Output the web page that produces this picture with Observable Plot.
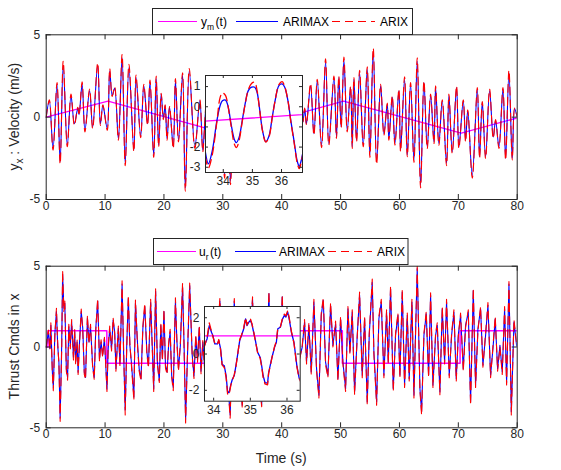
<!DOCTYPE html>
<html><head><meta charset="utf-8">
<script src="https://cdn.jsdelivr.net/npm/d3@7"></script>
<script src="https://cdn.jsdelivr.net/npm/@observablehq/plot@0.6"></script>
<style>
body{margin:0;background:#fff}
#fig{position:relative;width:561px;height:470px;background:#fff;overflow:hidden}
#fig > svg{position:absolute}
</style></head><body><div id="fig"></div>
<script>
// ---------- DATA ----------
// Top panel: velocity
const tTop = [
 0,0.53,1.16,1.84,2.37,2.89,3.58,4.21,4.79,5.37,
 5.58,6.1,6.58,7.37,7.89,8.74,9.21,9.63,10.37,10.79,
 11.21,11.63,12.26,12.89,13.42,14.05,14.89,15.26,16.05,16.58,
 17.21,17.63,18.26,18.68,19.1,19.53,19.9,20.2,20.53,20.95,
 21.58,21.95,22.47,23.16,23.63,24.3,25.25,26.1,26.6,27.2,
 27.8,28.4,29.0,29.6,30.3,30.8,31.3,31.9,32.4,32.95,
 33.47,33.98,34.46,35.05,35.46,36.02,36.6,37.2,37.8,38.4,
 39.0,39.6,40.2,40.8,41.4,42.0,42.6,43.2,43.6,43.9,
 44.2,44.9,45.47,46.04,46.77,47.45,48.0,48.87,49.3,49.7,
 50.1,50.57,51.13,51.7,51.98,52.26,52.72,53.23,53.85,54.53,
 54.98,55.55,56.12,56.8,57.36,57.93,58.2,58.78,59.23,59.9,
 60.19,60.87,61.33,61.89,62.46,63.02,63.59,64.16,64.72,65.29,
 65.86,66.14,66.7,67.27,68.0,68.4,68.97,69.7,70.1,70.84,
 71.23,71.6,72.37,73.22,73.61,74.07,74.63,75.31,75.93,76.33,
 76.9,77.58,78.03,78.6,79.16,79.56,80.0];
const arimaxTop = [
 0,1.0,-1.9,2.0,-2.7,3.15,-1.7,1.3,-0.4,0.55,
 0.15,2.0,-0.8,1.6,-0.6,3.15,-0.4,0.7,-0.7,2.8,
 1.3,1.75,-1.3,3.6,-2.8,3.0,-2.0,2.4,-1.15,1.9,
 -0.4,2.1,-2.3,2.35,-1.7,1.4,-0.1,0.7,-1.3,0.6,
 -1.8,2.2,-1.4,2.55,-4.3,2.8,-1.8,1.0,-2.0,0.8,
 -1.5,1.5,-2.0,2.0,-3.5,1.2,-3.9,1.0,-2.0,0.5,
 -2.83,0.33,-1.78,0.97,-1.73,1.13,-2.95,1.5,-2.2,2.0,
 -1.8,1.8,-2.0,2.2,-1.5,1.6,-1.8,0.8,-0.3,0.5,
 -0.4,1.9,-1.0,2.2,-1.7,3.35,-1.6,2.4,-1.2,2.4,
 -0.6,3.45,-0.8,1.8,-1.8,2.3,-1.4,2.7,-1.7,2.9,
 -2.3,4.0,-2.7,1.9,-1.0,0.8,-1.3,1.2,-1.6,1.6,
 -2.0,2.3,-2.3,2.0,-2.6,3.4,-4.15,2.1,-1.8,1.3,
 -1.5,1.8,-1.6,1.0,-2.8,1.3,-2.1,1.8,-1.8,1.0,
 -1.4,0.4,-3.55,1.7,-2.4,0.9,-2.4,1.6,-1.2,-0.2,
 -1.8,1.7,-2.5,2.7,-2.5,0.5,0];
const arixTop = [
 0,1.05,-2.0,2.1,-2.85,3.4,-1.8,1.4,-0.5,0.6,
 0.1,2.15,-0.9,1.7,-0.7,3.3,-0.5,0.75,-0.8,2.95,
 1.25,1.85,-1.4,3.8,-2.95,3.2,-2.1,2.55,-1.25,2.0,
 -0.5,2.25,-2.45,2.5,-1.8,1.45,-0.15,0.75,-1.4,0.65,
 -1.9,2.35,-1.5,2.7,-4.5,2.95,-1.9,1.05,-2.1,0.85,
 -1.6,1.6,-2.1,2.1,-3.7,1.3,-4.1,1.1,-2.1,0.6,
 -3.03,0.65,-2.03,1.25,-1.75,1.25,-3.07,1.6,-2.3,2.1,
 -1.9,1.9,-2.1,2.3,-1.6,1.7,-1.9,0.85,-0.3,0.55,
 -0.45,2.05,-1.1,2.3,-1.85,3.55,-1.7,2.5,-1.3,2.5,
 -0.65,3.65,-0.9,1.9,-1.9,2.4,-1.5,2.85,-1.8,3.05,
 -2.45,4.2,-2.85,2.0,-1.1,0.85,-1.4,1.3,-1.7,1.7,
 -2.1,2.45,-2.4,2.1,-2.75,3.6,-4.3,2.2,-1.9,1.4,
 -1.6,1.9,-1.7,1.05,-2.95,1.4,-2.2,1.9,-1.9,1.05,
 -1.5,0.45,-3.7,1.8,-2.5,0.95,-2.5,1.7,-1.3,-0.15,
 -1.9,1.8,-2.6,2.85,-2.6,0.55,0];
const refTopT = [0,10.5,30.5,50.5,70.5,80];
const refTopV = [0,0.97,-1,0.97,-0.97,-0.05];

// Top inset (zoom 33.4-36.7 s)
const tInsTop = [33.38,33.49,33.62,33.78,33.89,33.97,34.08,34.16,34.27,34.38,
 34.45,34.54,34.65,34.76,34.86,34.97,35.08,35.16,35.24,35.35,
 35.46,35.57,35.68,35.78,35.91,36.02,36.11,36.22,36.32,36.43,
 36.54,36.61,36.67,36.76];
const arimaxInsTop = [-2.2,-2.83,-2.2,-0.7,0.05,0.3,0.33,0.05,-0.87,-1.62,
 -1.78,-1.53,-0.7,0.22,0.8,0.97,0.97,0.72,-0.03,-1.2,
 -1.73,-1.45,-0.53,0.3,1.05,1.13,0.97,0.3,-0.7,-1.7,
 -2.7,-2.95,-2.7,-2.03];
const arixInsTop = [-2.45,-3.03,-2.4,-0.75,0.45,0.7,0.55,0.05,-0.95,-1.85,
 -2.03,-1.7,-0.75,0.2,0.85,1.15,1.22,0.8,-0.05,-1.22,
 -1.75,-1.5,-0.55,0.3,1.1,1.25,1.0,0.3,-0.75,-1.75,
 -2.8,-3.07,-2.8,-2.1];

// Bottom panel: thrust commands
const tBot = [
 0,0.37,0.63,0.79,1.05,1.21,1.47,1.74,1.95,2.16,
 2.37,2.63,2.79,3.0,3.16,3.42,3.63,3.84,4.1,4.32,
 4.63,4.84,5.0,5.26,5.42,5.63,5.95,6.21,6.47,6.68,
 7.0,7.26,7.53,7.89,8.16,8.42,8.74,9.05,9.32,9.58,
 9.89,10.32,10.53,10.79,11.1,11.37,11.63,11.84,12.26,12.53,
 12.89,13.16,13.42,13.68,13.95,14.21,14.47,14.89,15.16,15.53,
 15.79,16.1,16.42,16.74,17.1,17.37,17.74,18.05,18.26,18.58,
 18.89,19.21,19.47,19.74,20.0,20.26,20.53,20.79,21.05,21.32,
 21.58,21.95,22.21,22.47,22.79,23.16,23.42,23.68,24.05,24.37,
 24.8,25.1,25.4,25.7,26.0,26.3,26.6,26.9,27.2,27.5,
 27.8,28.1,28.4,28.8,29.1,29.5,29.9,30.2,30.5,30.9,
 31.25,31.6,31.95,32.3,32.6,33.0,33.3,33.7,34.0,34.4,
 34.8,35.05,35.4,35.8,36.2,36.6,37.0,37.4,37.83,38.1,
 38.4,38.7,39.0,39.3,39.6,39.85,40.09,40.4,40.7,41.0,
 41.3,41.6,41.9,42.2,42.5,42.8,43.1,43.49,43.88,44.22,
 44.62,45.02,45.47,45.92,46.32,46.72,47.06,47.45,47.85,48.3,
 48.7,49.15,49.55,50.0,50.4,50.85,51.25,51.59,51.98,52.38,
 52.83,53.23,53.68,54.08,54.53,54.87,55.38,55.66,56.12,56.51,
 56.91,57.36,57.81,58.1,58.49,58.95,59.34,59.74,60.08,60.48,
 60.87,61.33,61.66,62.12,62.46,63.02,63.48,63.76,64.16,64.55,
 64.95,65.29,65.69,66.14,66.42,66.87,67.27,67.67,68.0,68.46,
 68.86,69.25,69.65,69.99,70.38,70.84,71.23,71.69,72.08,72.54,
 72.93,73.33,73.78,74.18,74.63,75.03,75.48,75.88,76.27,76.67,
 77.07,77.46,77.86,78.2,78.6,79.0,79.45,79.9,80.0];
const arimaxBot = [
 0,0.94,-0.1,1.35,-1.56,-2.5,0.83,2.19,0.1,-0.94,
 -4.4,0.1,4.5,2.4,2.7,-1.35,-1.88,1.25,0.1,1.56,
 -0.63,0.94,-0.94,0.3,-1.56,0.1,2.19,1.15,-1.56,-1.88,
 1.77,0.31,1.25,-1.15,-1.88,1.15,2.85,-0.73,0.31,-0.52,
 0.52,-2.6,-0.1,1.15,-0.1,1.67,0.94,-1.35,1.15,-1.04,
 3.9,-0.52,-3.9,0.1,3.0,0.1,-0.94,-3.1,2.7,0.1,
 -1.35,-1.98,1.15,2.5,-0.31,-1.15,2.75,-0.31,-2.6,3.45,
 -0.94,-2.08,1.35,-0.73,2.19,-1.15,-1.56,0.1,0.94,-1.77,
 -2.5,2.85,0.31,-1.35,0.1,3.75,0.1,-4.5,0.1,3.8,
 -0.5,-1.8,0.6,-0.8,1.2,-1.5,0.3,-1.2,1.5,-0.5,
 2.0,-1.0,1.2,-2.0,0.8,2.85,-0.5,1.0,-1.5,-2.5,
 -4.2,0.5,2.85,-1.0,0.8,-1.5,-3.6,0.4,1.5,-2.0,
 1.5,2.95,-1.5,0.5,-2.0,-3.55,1.0,-1.0,3.3,-0.5,
 -2.2,0.8,-1.0,1.8,-2.0,0.5,3.1,-0.3,-2.4,1.2,
 -0.8,2.0,-1.5,0.6,-2.2,1.5,-0.6,0,1.55,-0.93,
 1.34,-1.55,2.78,-1.34,-2.99,1.96,2.89,-0.93,-1.75,2.58,
 0.1,1.44,-1.96,1.75,-0.93,-2.58,2.37,-0.31,2.16,-2.78,
 0.72,3.2,-1.75,1.75,-3.4,0.72,4.0,-0.31,-3.4,1.75,
 2.78,-1.75,2.16,-0.93,3.6,-2.58,0.72,1.96,-1.75,3.4,
 -2.37,1.96,-1.96,2.78,-2.99,4.85,-2.58,-4.0,0.72,2.06,
 -1.75,3.2,-2.37,0.72,1.34,-2.78,2.37,-0.93,2.78,-1.75,
 0.72,2.16,-1.96,0.72,1.96,-1.34,1.34,2.16,-3.4,3.5,
 -2.37,1.13,2.37,-1.13,0.72,2.58,-1.75,-0.1,1.75,-1.34,
 0.1,-1.55,2.37,-2.2,3.9,-4.0,1.55,0.1,0];
const arixBot = [
 0,1.05,-0.2,1.5,-1.7,-2.7,0.7,2.4,0.3,-1.1,
 -4.6,-0.2,4.75,2.2,2.9,-1.5,-2.05,1.4,-0.1,1.7,
 -0.8,1.1,-1.1,0.45,-1.7,0.0,2.35,1.0,-1.7,-2.0,
 1.95,0.2,1.4,-1.3,-2.0,1.0,3.0,-0.9,0.45,-0.65,
 0.6,-2.75,0.05,1.3,-0.25,1.8,0.8,-1.5,1.3,-1.2,
 4.1,-0.3,-4.2,0.0,3.2,0.2,-1.1,-3.3,2.9,-0.05,
 -1.5,-2.1,1.3,2.7,-0.45,-1.3,2.95,-0.5,-2.75,3.6,
 -1.1,-2.2,1.5,-0.85,2.35,-1.3,-1.7,0.2,1.1,-1.9,
 -2.7,3.05,0.2,-1.5,0.25,3.95,-0.1,-4.7,0.3,3.95,
 -0.6,-1.95,0.75,-0.95,1.35,-1.65,0.4,-1.35,1.6,-0.6,
 2.1,-1.1,1.3,-2.1,0.9,3.0,-0.6,1.1,-1.6,-2.6,
 -4.4,0.6,3.0,-1.1,0.9,-1.6,-3.8,0.5,1.6,-2.1,
 1.6,3.1,-1.6,0.6,-2.1,-3.7,1.1,-1.1,3.45,-0.6,
 -2.3,0.9,-1.1,1.9,-2.1,0.6,3.25,-0.4,-2.5,1.3,
 -0.9,2.1,-1.6,0.7,-2.3,1.6,-0.7,0.1,1.7,-1.05,
 1.5,-1.7,2.95,-1.5,-3.15,2.1,3.05,-1.1,-1.9,2.75,
 0.0,1.6,-2.1,1.9,-1.05,-2.75,2.5,-0.45,2.3,-2.95,
 0.6,3.4,-1.9,1.9,-3.6,0.85,4.2,-0.45,-3.6,1.9,
 2.95,-1.9,2.3,-1.05,3.8,-2.75,0.85,2.1,-1.9,3.6,
 -2.5,2.1,-2.1,2.95,-3.15,5.0,-2.7,-4.2,0.85,2.2,
 -1.9,3.35,-2.5,0.85,1.5,-2.95,2.5,-1.05,2.95,-1.9,
 0.85,2.3,-2.1,0.6,2.1,-1.5,1.2,2.3,-3.6,3.65,
 -2.5,1.0,2.5,-1.25,0.85,2.75,-1.9,0.05,1.9,-1.5,
 0.0,-1.7,2.5,-2.35,4.05,-4.2,1.7,0.2,0.05];
const refBotT = [0,0.3,10.3,30.3,50.3,70.3,80];
const refBotV = [0,1,-1,1,-1,1,1];

// Bottom inset (zoom 33.75-36.36 s)
const tInsBot = [33.73,33.82,33.88,33.94,33.98,34.03,34.1,34.14,34.19,34.23,
 34.29,34.34,34.38,34.42,34.47,34.51,34.56,34.6,34.65,34.71,
 34.76,34.82,34.87,34.91,34.96,35.0,35.04,35.09,35.13,35.2,
 35.27,35.31,35.35,35.4,35.47,35.5,35.56,35.59,35.66,35.71,
 35.75,35.82,35.88,35.93,35.97,36.02,36.06,36.12,36.19,36.27,
 36.33,36.42];
const arimaxInsBot = [0.37,0.83,1.57,1.2,1.02,0.56,0.56,0.74,0.28,-0.56,
 -0.65,-1.2,-2.09,-2.13,-1.67,-1.39,-1.2,-0.74,-0.09,0.74,
 1.02,1.39,1.94,1.57,1.76,1.85,1.67,1.2,0.83,0.09,
 -0.19,-0.65,-1.2,-1.57,-1.61,-1.02,-0.46,-0.19,0.37,0.65,
 1.39,1.48,1.94,2.13,2.04,2.31,1.94,1.2,0.65,-0.65,
 -1.3,-1.67];
const arixInsBot = [0.3,0.9,1.72,1.25,0.95,0.6,0.5,0.8,0.2,-0.6,
 -0.75,-1.3,-2.2,-2.25,-1.7,-1.45,-1.15,-0.8,-0.1,0.8,
 1.05,1.45,2.0,1.6,1.85,1.95,1.7,1.25,0.8,0.05,
 -0.25,-0.7,-1.3,-1.65,-1.7,-1.05,-0.5,-0.2,0.4,0.7,
 1.45,1.5,2.0,2.2,2.1,2.4,2.0,1.25,0.6,-0.7,
 -1.35,-1.75];

const mainXTicks = [0,10,20,30,40,50,60,70,80];
const mainYTicks = [-5,0,5];
const insTopXTicks = [34,35,36];
const insTopYTicks = [-3,-2,-1,0,1];
const insTopYLabels = [-3,-2,0,1];
const insBotXTicks = [34,35,36];
const insBotYTicks = [-2,0,2];

// ---------- RENDER ----------
const FONT = '"Liberation Sans", Arial, Helvetica, sans-serif';
const AX = "#262626";
const MAG = "#ff00ff", BLUE = "#0000ff", RED = "#ff0000";
const DASH = "8,5";
const rows = (t, a, b) => t.map((x, i) => ({t: x, a: a[i], b: b ? b[i] : null}));

function axesPlot(o) {
  const iw = o.width - o.ml - o.mr, ih = o.height - o.mt - o.mb, tl = o.tickLen;
  const marks = [];
  if (o.bg) marks.push(Plot.frame({fill: "white", stroke: null}));
  marks.push(...o.marks);
  marks.push(Plot.ruleX(o.xTicks, {x: d => d, insetTop: ih - tl, stroke: AX, strokeWidth: 1}));
  marks.push(Plot.ruleX(o.xTicks, {x: d => d, insetBottom: ih - tl, stroke: AX, strokeWidth: 1}));
  marks.push(Plot.ruleY(o.yTicks, {y: d => d, insetRight: iw - tl, stroke: AX, strokeWidth: 1}));
  marks.push(Plot.ruleY(o.yTicks, {y: d => d, insetLeft: iw - tl, stroke: AX, strokeWidth: 1}));
  marks.push(Plot.frame({stroke: AX, strokeWidth: 1, fill: null}));
  marks.push(Plot.text(o.xTicks, {x: d => d, text: d => String(d), frameAnchor: "bottom", dy: o.xdy, fontSize: o.fs, fill: AX}));
  marks.push(Plot.text(o.yLabels || o.yTicks, {y: d => d, text: d => String(d), frameAnchor: "left", dx: -o.ydx, textAnchor: "end", fontSize: o.fs, fill: AX}));
  const svg = Plot.plot({
    width: o.width, height: o.height,
    marginTop: o.mt, marginRight: o.mr, marginBottom: o.mb, marginLeft: o.ml,
    x: {domain: o.xDomain, axis: null},
    y: {domain: o.yDomain, axis: null},
    style: {background: "transparent", fontFamily: FONT, overflow: "visible"},
    marks
  });
  svg.style.left = o.left + "px";
  svg.style.top = o.top + "px";
  return svg;
}

function signalMarks(data, curve, sw) {
  return [
    Plot.line(data, {x: "t", y: "a", stroke: BLUE, strokeWidth: sw, curve, clip: true}),
    Plot.line(data, {x: "t", y: "b", stroke: RED, strokeWidth: sw, strokeDasharray: DASH, curve, clip: true})
  ];
}

const fig = document.getElementById("fig");
const refTop = rows(refTopT, refTopV);
const refBot = rows(refBotT, refBotV);

fig.appendChild(axesPlot({
  left: 0, top: 0, width: 561, height: 235, ml: 45.7, mr: 44.3, mt: 34.3, mb: 36,
  xDomain: [0, 80], yDomain: [-5, 5], xTicks: mainXTicks, yTicks: mainYTicks,
  tickLen: 5, fs: 12, xdy: 10, ydx: 6,
  marks: [
    Plot.line(refTop, {x: "t", y: "a", stroke: MAG, strokeWidth: 1.3, clip: true}),
    ...signalMarks(rows(tTop, arimaxTop, arixTop), "catmull-rom", 1.1)
  ]
}));
fig.appendChild(axesPlot({
  left: 175, top: 65, width: 137, height: 130, ml: 30, mr: 10, mt: 10, mb: 23,
  xDomain: [33.39, 36.72], yDomain: [-3.26, 1.55], xTicks: insTopXTicks, yTicks: insTopYTicks, yLabels: insTopYLabels,
  tickLen: 3, fs: 12, xdy: 12, ydx: 5, bg: true,
  marks: [
    Plot.line(refTop, {x: "t", y: "a", stroke: MAG, strokeWidth: 1.3, clip: true}),
    ...signalMarks(rows(tInsTop, arimaxInsTop, arixInsTop), "catmull-rom", 1.3)
  ]
}));
fig.appendChild(axesPlot({
  left: 0, top: 235, width: 561, height: 235, ml: 45.7, mr: 44.3, mt: 30.7, mb: 42.7,
  xDomain: [0, 80], yDomain: [-5, 5], xTicks: mainXTicks, yTicks: mainYTicks,
  tickLen: 5, fs: 12, xdy: 10, ydx: 6,
  marks: [
    Plot.line(refBot, {x: "t", y: "a", stroke: MAG, strokeWidth: 1.5, curve: "step-after", clip: true}),
    ...signalMarks(rows(tBot, arimaxBot, arixBot), "linear", 1.1)
  ]
}));
fig.appendChild(axesPlot({
  left: 174.3, top: 296, width: 135.7, height: 128, ml: 30, mr: 10, mt: 10, mb: 23.3,
  xDomain: [33.75, 36.36], yDomain: [-2.6, 2.62], xTicks: insBotXTicks, yTicks: insBotYTicks,
  tickLen: 3, fs: 12, xdy: 13, ydx: 5, bg: true,
  marks: [
    Plot.line(refBot, {x: "t", y: "a", stroke: MAG, strokeWidth: 1.3, curve: "step-after", clip: true}),
    ...signalMarks(rows(tInsBot, arimaxInsBot, arixInsBot), "linear", 1.3)
  ]
}));

// Overlay: legends and axis labels
const ov = d3.select(fig).append("svg")
  .attr("width", 561).attr("height", 470)
  .style("left", "0px").style("top", "0px")
  .style("font-family", FONT);

function legend(box, entries, baseY) {
  ov.append("rect").attr("x", box[0]).attr("y", box[1]).attr("width", box[2]).attr("height", box[3])
    .attr("fill", "white").attr("stroke", AX).attr("stroke-width", 1);
  const ly = baseY - 4.5;
  entries.forEach(e => {
    ov.append("line").attr("x1", e.x1).attr("x2", e.x2).attr("y1", ly).attr("y2", ly)
      .attr("stroke", e.color).attr("stroke-width", 1).attr("stroke-dasharray", e.dash || null);
    const t = ov.append("text").attr("x", e.tx).attr("y", baseY).attr("font-size", 12).attr("fill", "#000");
    if (e.sub) {
      t.append("tspan").text(e.label);
      t.append("tspan").attr("dy", 3.5).attr("font-size", 8.5).text(e.sub);
      t.append("tspan").attr("dy", -3.5).attr("dx", 1.5).text(e.rest);
    } else t.text(e.label);
  });
}
legend([152.5, 8.5, 260, 26], [
  {x1: 158, x2: 197, color: MAG, tx: 201, label: "y", sub: "m", rest: "(t)"},
  {x1: 236, x2: 278, color: BLUE, tx: 283, label: "ARIMAX"},
  {x1: 332, x2: 375, color: RED, dash: DASH, tx: 380, label: "ARIX"}
], 26);
legend([153.5, 238.5, 254.5, 26], [
  {x1: 157, x2: 196, color: MAG, tx: 199, label: "u", sub: "r", rest: "(t)"},
  {x1: 235, x2: 276, color: BLUE, tx: 279, label: "ARIMAX"},
  {x1: 328, x2: 372, color: RED, dash: DASH, tx: 377, label: "ARIX"}
], 256);

const yl1 = ov.append("text").attr("transform", "translate(19,116.7) rotate(-90)")
  .attr("text-anchor", "middle").attr("font-size", 14).attr("fill", AX);
yl1.append("tspan").text("y");
yl1.append("tspan").attr("dy", 4).attr("font-size", 10).text("x");
yl1.append("tspan").attr("dy", -4).text(" : Velocity (m/s)");

ov.append("text").attr("transform", "translate(19,346.5) rotate(-90)")
  .attr("text-anchor", "middle").attr("font-size", 14).attr("fill", AX).text("Thrust Cmds in x");
ov.append("text").attr("x", 281.2).attr("y", 463).attr("text-anchor", "middle")
  .attr("font-size", 14).attr("fill", AX).text("Time (s)");
</script></body></html>
